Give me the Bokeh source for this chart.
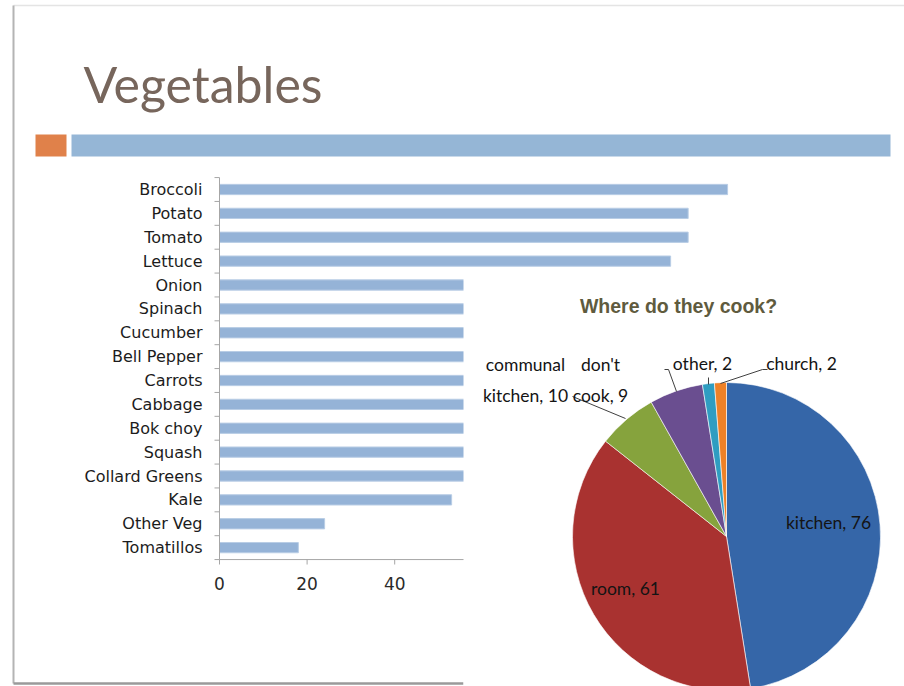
import math
from bokeh.plotting import figure
from bokeh.models import Range1d
from bokeh.core.properties import value
from bokeh.embed import file_html
from bokeh.resources import INLINE

# ---------------- data ----------------
vegetables = ["Broccoli", "Potato", "Tomato", "Lettuce", "Onion", "Spinach",
              "Cucumber", "Bell Pepper", "Carrots", "Cabbage", "Bok choy",
              "Squash", "Collard Greens", "Kale", "Other Veg", "Tomatillos"]
veg_counts = [116, 107, 107, 103, 98, 92, 88, 85, 79, 74, 70, 64, 60, 53, 24, 18]
x_ticks = [0, 20, 40]
x_axis_max = 120

cook_places = ["kitchen", "room", "communal\nkitchen", "don't\ncook", "other", "church"]
cook_counts = [76, 61, 10, 9, 2, 2]
cook_colors = ["#3566A8", "#A93230", "#86A33D", "#6A4E90", "#2F9DC1", "#EE8127"]

# ---------------- layout (pixels) ----------------
W, H = 904, 686
def Y(ys):
    return H - ys

X0_PX = 219.0        # value 0 on the bar axis
PX_PER_UNIT = 4.38
ROW0_PX = 189.0      # centre of first category row (from top)
ROW_STEP = 23.875

p = figure(width=W, height=H, output_backend="svg", toolbar_location=None,
           x_range=Range1d(0, W), y_range=Range1d(0, H), min_border=0)
p.axis.visible = False
p.grid.visible = False
p.outline_line_color = None
p.background_fill_color = "white"
p.border_fill_color = "white"

p.extra_x_ranges = {"veg": Range1d(-X0_PX / PX_PER_UNIT, (W - X0_PX) / PX_PER_UNIT)}
p.extra_y_ranges = {"cat": Range1d((H - ROW0_PX) / ROW_STEP, -ROW0_PX / ROW_STEP)}

# slide frame
p.line(x=[13, W], y=[Y(5), Y(5)], line_color="#e4e4e4", line_width=1.5)
p.line(x=[13, 13], y=[Y(5), Y(683)], line_color="#b4b4b4", line_width=2)
p.line(x=[13, 463], y=[Y(683), Y(683)], line_color="#9a9a9a", line_width=2.5)

# title + decoration
p.text(x=[83], y=[Y(83)], text=["Vegetables"], text_font=value("Lato"),
       text_font_size="50px", text_color="#77665C", text_baseline="middle",
       text_align="left")
p.quad(left=[35], right=[66], top=[Y(134)], bottom=[Y(156)],
       fill_color="#E0814A", line_color=None)
p.quad(left=[71], right=[890], top=[Y(134)], bottom=[Y(156)],
       fill_color="#95B6D6", line_color=None)

# ---------------- bar chart ----------------
idx = list(range(len(vegetables)))
p.hbar(y=idx, left=0, right=veg_counts, height=0.43,
       fill_color="#95B3D7", line_color="#B9CDE5", line_width=1,
       x_range_name="veg", y_range_name="cat")

axis_col = "#a6a6a6"
# y axis
p.segment(x0=[0], x1=[0], y0=[-0.5], y1=[len(vegetables) - 0.5],
          line_color=axis_col, line_width=1, x_range_name="veg", y_range_name="cat")
bnd = [i - 0.5 for i in range(len(vegetables) + 1)]
p.segment(x0=[-5 / PX_PER_UNIT] * len(bnd), x1=[0] * len(bnd), y0=bnd, y1=bnd,
          line_color=axis_col, line_width=1, x_range_name="veg", y_range_name="cat")
p.text(x=[202] * len(vegetables), y=idx, text=vegetables, y_range_name="cat",
       text_font=value("DejaVu Sans"), text_font_size="16px", text_color="#1c1c1c",
       text_align="right", text_baseline="middle")

# x axis
p.segment(x0=[0], x1=[x_axis_max], y0=[len(vegetables) - 0.5], y1=[len(vegetables) - 0.5],
          line_color=axis_col, line_width=1, x_range_name="veg", y_range_name="cat")
p.segment(x0=x_ticks, x1=x_ticks, y0=[Y(559)] * len(x_ticks), y1=[Y(564)] * len(x_ticks),
          line_color=axis_col, line_width=1, x_range_name="veg")
p.text(x=x_ticks, y=[Y(583)] * len(x_ticks), text=[str(t) for t in x_ticks],
       x_range_name="veg", text_font=value("DejaVu Sans"), text_font_size="17px",
       text_color="#2a2a2a", text_align="center", text_baseline="middle")

# ---------------- pie (pasted picture on top) ----------------
p.quad(left=[463], right=[W], top=[Y(272)], bottom=[0],
       fill_color="white", line_color=None)

p.text(x=[678], y=[Y(305)], text=["Where do they cook?"],
       text_font=value("Liberation Sans"), text_font_style="bold",
       text_font_size="19.5px", text_color="#5F5B3E",
       text_align="center", text_baseline="middle")

total = float(sum(cook_counts))
starts, ends = [], []
acc = 0.0
for c in cook_counts:
    starts.append(math.pi / 2 - 2 * math.pi * acc / total)
    acc += c
    ends.append(math.pi / 2 - 2 * math.pi * acc / total)

CX, CY, R = 726, 536, 154
p.wedge(x=[CX] * len(cook_counts), y=[Y(CY)] * len(cook_counts), radius=R,
        radius_units="screen", start_angle=starts, end_angle=ends,
        direction="clock", fill_color=cook_colors, line_color="white",
        line_width=0.6)

# leader lines
p.multi_line(xs=[[572, 625], [664, 668, 676], [708, 708], [767, 762, 720]],
             ys=[[Y(396), Y(418)], [Y(369), Y(369), Y(391)], [Y(377), Y(384)],
                 [Y(369), Y(369), Y(383)]],
             line_color="#404040", line_width=1)

labels = [f"{n}, {c}" for n, c in zip(cook_places, cook_counts)]
lab_x = [828, 625, 525, 600, 702, 801]
lab_y = [522, 588, 379.5, 379.5, 363, 363]
p.text(x=lab_x, y=[Y(v) for v in lab_y], text=labels,
       text_font=value("Lato"), text_font_size="17.5px", text_color="#141414",
       text_align="center", text_baseline="middle", text_line_height=1.45)

open("out.html", "w").write(file_html(p, INLINE))
